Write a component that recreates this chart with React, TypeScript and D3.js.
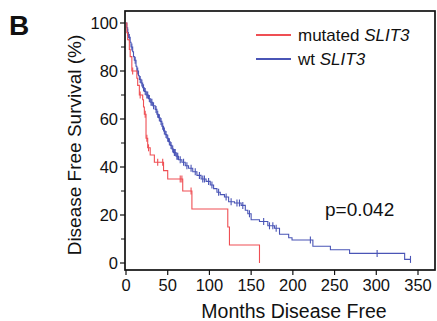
import React from 'react';
import * as d3 from 'd3';

// Kaplan-Meier steps: [month, survival % after event]
const mutatedSteps: [number, number][] = [
  [0, 100], [1, 96], [2, 93], [4, 89], [5, 86], [7, 80], [13, 77], [14, 74],
  [16, 70], [20, 68], [21, 65], [22, 62], [24, 52], [26, 48], [29, 45],
  [34, 42], [45, 38.5], [50, 35], [68, 30], [79, 22.5], [122, 15],
  [124, 7.5], [160, 0],
];
const mutatedCensored = [8, 17, 23, 25, 27, 38, 44, 65, 67, 78];

const wtSteps: [number, number][] = [
  [0, 100], [1, 98], [2, 96], [3, 94], [5, 92], [6, 90], [8, 88], [9, 86],
  [10, 84.5], [12, 82], [13, 80], [15, 78], [16, 76.5], [18, 75], [20, 73],
  [22, 71.5], [24, 70], [27, 68.5], [29, 67], [32, 65.5], [35, 64], [37, 62],
  [39, 60.5], [41, 59], [43, 57], [45, 55], [47, 53.5], [49, 52], [51, 50.5],
  [53, 49], [55, 47.5], [57, 46], [60, 44.5], [63, 43], [67, 42], [71, 40.5],
  [75, 39.5], [80, 38], [85, 36.5], [90, 35], [96, 34], [101, 32.5],
  [105, 31], [109, 29.5], [113, 28.5], [118, 27.5], [123, 25.5], [130, 25],
  [138, 24], [143, 22], [146, 20.5], [150, 18], [160, 17.3], [170, 15.5],
  [178, 14.5], [184, 12], [195, 10.5], [199, 9.6], [224, 7], [245, 5.5],
  [268, 4], [334, 1.5],
];
const wtCensored = [
  2, 4, 7, 11, 14, 17, 19, 21, 23, 25, 26, 28, 30, 31, 33, 36, 38, 40, 42, 44,
  46, 48, 50, 52, 54, 56, 58, 59, 61, 62, 65, 69, 73, 78, 83, 88, 92, 94, 99,
  103, 111, 120, 126, 133, 136, 140, 148, 165, 172, 176, 180, 221, 301, 341,
];

const xTicks = [0, 50, 100, 150, 200, 250, 300, 350];
const yTicks = [0, 20, 40, 60, 80, 100];
const yMinorTicks = [10, 30, 50, 70, 90];

const RED = '#ef4f54';
const BLUE = '#4a55b6';
const FONT = 'Liberation Sans, Arial, Helvetica, sans-serif';

const survivalAt = (steps: [number, number][], t: number) => {
  const i = d3.bisector((d: [number, number]) => d[0]).right(steps, t) - 1;
  return steps[Math.max(0, i)][1];
};

const App = () => {
  const width = 437;
  const height = 321;
  const x = d3.scaleLinear().domain([0, 350]).range([126, 418]);
  const y = d3.scaleLinear().domain([0, 100]).range([263, 23]);
  const frame = { left: 125, top: 11, right: 435, bottom: 270 };

  const line = d3
    .line<[number, number]>()
    .x((d) => x(d[0]))
    .y((d) => y(d[1]))
    .curve(d3.curveStepAfter);

  const curve = (steps: [number, number][], censored: number[], color: string) => {
    const last = steps[steps.length - 1];
    const end = Math.max(last[0], d3.max(censored) ?? last[0]);
    const pts: [number, number][] = [...steps, [end, last[1]]];
    return (
      <g>
        <path d={line(pts) ?? ''} fill='none' stroke={color} strokeWidth={1.1} />
        {censored.map((t, i) => {
          const s = survivalAt(steps, t);
          return (
            <line
              key={i}
              x1={x(t)}
              x2={x(t)}
              y1={y(s) - 3.5}
              y2={y(s) + 3.5}
              stroke={color}
              strokeWidth={1.1}
            />
          );
        })}
      </g>
    );
  };

  return (
    <svg
      width={width}
      height={height}
      style={{ position: 'absolute', left: 0, top: 0, background: '#fff' }}
      fontFamily={FONT}
    >
      <text x={9} y={35} fontSize={28} fontWeight='bold' fill='#111'>
        B
      </text>

      {/* frame */}
      <rect
        x={frame.left}
        y={frame.top}
        width={frame.right - frame.left}
        height={frame.bottom - frame.top}
        fill='none'
        stroke='#111'
        strokeWidth={1.7}
      />

      {/* y axis */}
      {yTicks.map((t) => (
        <g key={t}>
          <line x1={frame.left - 5} x2={frame.left} y1={y(t)} y2={y(t)} stroke='#111' strokeWidth={1.2} />
          <text x={118} y={y(t) + 6} fontSize={16.5} textAnchor='end' fill='#111'>
            {t}
          </text>
        </g>
      ))}
      {yMinorTicks.map((t) => (
        <line key={t} x1={frame.left - 4} x2={frame.left} y1={y(t)} y2={y(t)} stroke='#111' strokeWidth={1} />
      ))}

      {/* x axis */}
      {xTicks.map((t) => (
        <g key={t}>
          <line x1={x(t)} x2={x(t)} y1={frame.bottom} y2={frame.bottom + 5} stroke='#111' strokeWidth={1.2} />
          <text x={x(t)} y={291} fontSize={16.5} textAnchor='middle' fill='#111'>
            {t}
          </text>
        </g>
      ))}

      <text x={294} y={318} fontSize={19.5} textAnchor='middle' fill='#111'>
        Months Disease Free
      </text>
      <text
        transform='translate(81,145) rotate(-90)'
        fontSize={19}
        textAnchor='middle'
        fill='#111'
      >
        Disease Free Survival (%)
      </text>

      {curve(wtSteps, wtCensored, BLUE)}
      {curve(mutatedSteps, mutatedCensored, RED)}

      {/* legend */}
      <line x1={256} x2={291} y1={35} y2={35} stroke={RED} strokeWidth={2} />
      <text x={298} y={41} fontSize={17} fill='#111'>
        mutated <tspan fontStyle='italic'>SLIT3</tspan>
      </text>
      <line x1={256} x2={291} y1={59} y2={59} stroke={BLUE} strokeWidth={2} />
      <text x={298} y={65} fontSize={17} fill='#111'>
        wt <tspan fontStyle='italic'>SLIT3</tspan>
      </text>

      <text x={325} y={216} fontSize={19} fill='#111'>
        p=0.042
      </text>
    </svg>
  );
};

export default App;
